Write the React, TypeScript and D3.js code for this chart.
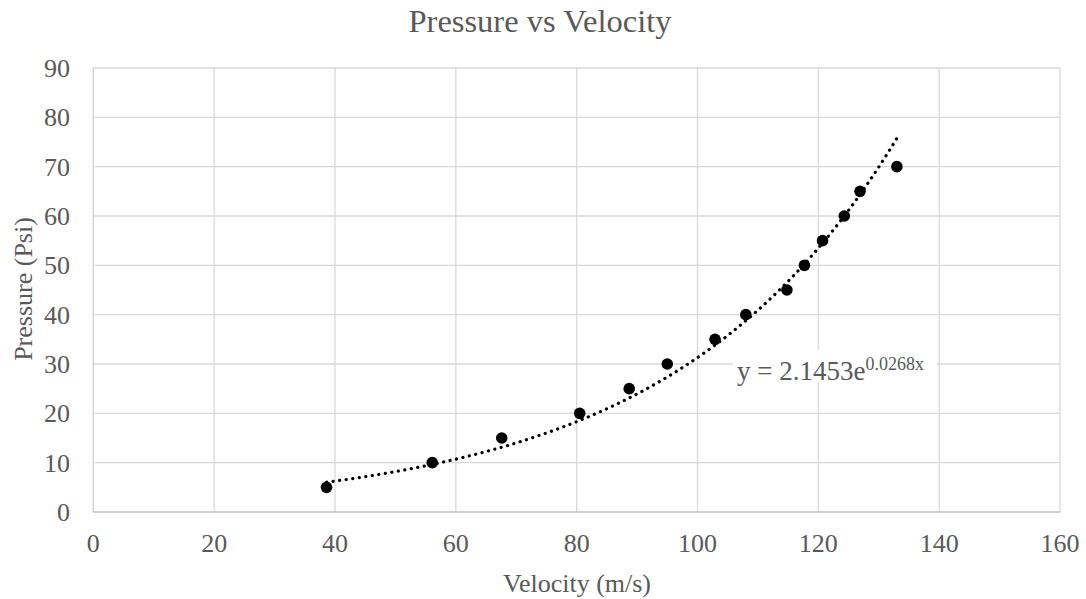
import React from "react";
import * as d3 from "d3";

const velocity = [38.6, 56.1, 67.6, 80.5, 88.7, 95.0, 102.9, 108.0, 114.8, 117.7, 120.7, 124.3, 126.9, 133.0];
const pressure = [5, 10, 15, 20, 25, 30, 35, 40, 45, 50, 55, 60, 65, 70];
const xTicks = [0, 20, 40, 60, 80, 100, 120, 140, 160];
const yTicks = [0, 10, 20, 30, 40, 50, 60, 70, 80, 90];
const trendA = 2.1453;
const trendB = 0.0268;
const trendRange = [38.6, 133.4];

const W = 1086;
const H = 599;
const FONT = "'Liberation Serif', 'Times New Roman', serif";
const TEXT = "#595959";

export default function App() {
  const x = d3.scaleLinear().domain([0, 160]).range([93.3, 1060]);
  const y = d3.scaleLinear().domain([0, 90]).range([512, 68]);

  const steps = 120;
  const trendPts: [number, number][] = d3.range(steps + 1).map((i) => {
    const v = trendRange[0] + ((trendRange[1] - trendRange[0]) * i) / steps;
    return [v, trendA * Math.exp(trendB * v)];
  });
  const line = d3
    .line<[number, number]>()
    .x((d) => x(d[0]))
    .y((d) => y(d[1]))
    .curve(d3.curveLinear);

  const data = velocity.map((v, i) => ({ v, p: pressure[i] }));

  return (
    <svg
      width={W}
      height={H}
      style={{ position: "absolute", left: 0, top: 0, background: "#fff" }}
      fontFamily={FONT}
    >
      <rect x={0} y={0} width={W} height={H} fill="#fff" />
      {/* gridlines */}
      {xTicks.slice(1).map((t) => (
        <line key={"gx" + t} x1={x(t)} x2={x(t)} y1={y(90)} y2={y(0)} stroke="#d9d9d9" strokeWidth={1.3} />
      ))}
      {yTicks.slice(1).map((t) => (
        <line key={"gy" + t} x1={x(0)} x2={x(160)} y1={y(t)} y2={y(t)} stroke="#d9d9d9" strokeWidth={1.3} />
      ))}
      {/* axes */}
      <line x1={x(0)} x2={x(0)} y1={y(90)} y2={y(0)} stroke="#d0d0d0" strokeWidth={1.3} />
      <line x1={x(0)} x2={x(160)} y1={y(0)} y2={y(0)} stroke="#bfbfbf" strokeWidth={1.3} />
      {/* tick labels */}
      {xTicks.map((t) => (
        <text key={"tx" + t} x={x(t)} y={552} textAnchor="middle" fontSize={26} fill={TEXT}>
          {t}
        </text>
      ))}
      {yTicks.map((t) => (
        <text key={"ty" + t} x={70} y={y(t)} dy="0.34em" textAnchor="end" fontSize={26} fill={TEXT}>
          {t}
        </text>
      ))}
      {/* trendline */}
      <path
        d={line(trendPts) || ""}
        fill="none"
        stroke="#000"
        strokeWidth={3.2}
        strokeLinecap="round"
        strokeDasharray="0.1 6.5"
      />
      {/* points */}
      {data.map((d, i) => (
        <circle key={"p" + i} cx={x(d.v)} cy={y(d.p)} r={5.8} fill="#000" />
      ))}
      {/* equation label */}
      <rect x={733} y={350} width={204} height={32} fill="#fff" />
      <text x={737} y={380} fontSize={27} fill={TEXT}>
        y = 2.1453e
        <tspan fontSize={18} dy={-10}>0.0268x</tspan>
      </text>
      {/* titles */}
      <text x={540} y={32} textAnchor="middle" fontSize={32.5} fill={TEXT}>
        Pressure vs Velocity
      </text>
      <text x={577} y={592} textAnchor="middle" fontSize={26} fill={TEXT}>
        Velocity (m/s)
      </text>
      <text
        transform={`translate(32, 289) rotate(-90)`}
        textAnchor="middle"
        fontSize={26}
        fill={TEXT}
      >
        Pressure (Psi)
      </text>
    </svg>
  );
}
